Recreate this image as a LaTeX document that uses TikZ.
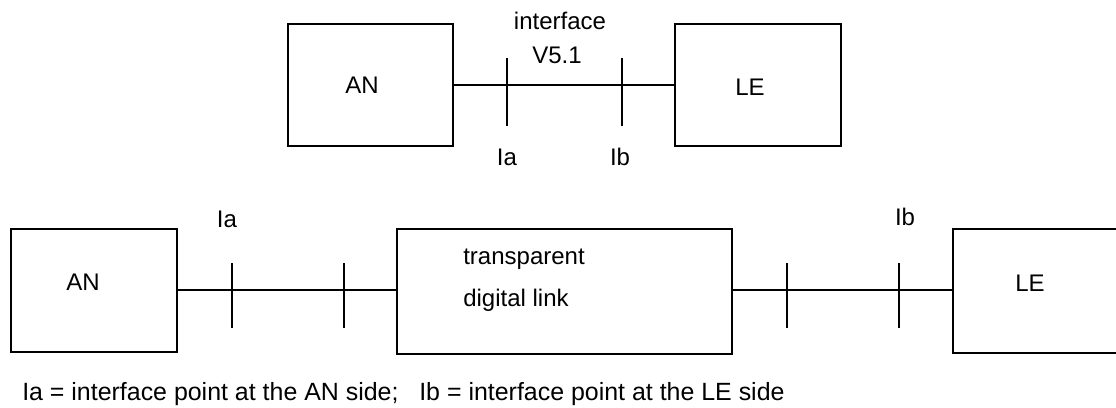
\documentclass[tikz,border=0pt]{standalone}
\usepackage{fontspec}
\setmainfont{Liberation Sans}
\begin{document}
\begin{tikzpicture}[x=0.75pt,y=-0.75pt,
  box/.style={draw, line width=1.4pt, inner sep=0pt, rectangle},
  wire/.style={line width=1.4pt},
  lbl/.style={inner sep=0pt, font=\fontsize{18}{21}\selectfont}]
\useasboundingbox (0,0) rectangle (1116,407);
\begin{scope}
\clip (0,0) rectangle (1116,407);
% top row
\node[box, minimum width=123.75pt, minimum height=91.5pt] (anT) at (370.5,85) {};
\node[box, minimum width=124.5pt, minimum height=91.5pt] (leT) at (758,85) {};
\node[lbl] (anTt) at (362,85) {AN};
\node[lbl] (leTt) at (750,87) {LE};
\draw[wire] (anT.east) -- (leT.west);
\coordinate (t1a) at (507,58); \coordinate (t1b) at (507,126);
\coordinate (t2a) at (622,58); \coordinate (t2b) at (622,126);
\draw[wire] (t1a) -- (t1b);
\draw[wire] (t2a) -- (t2b);
\node[lbl] (ifc) at (560,21) {interface};
\node[lbl] (v51) at (557,55) {V5.1};
\node[lbl] (iaT) at (507,157) {Ia};
\node[lbl] (ibT) at (620,157) {Ib};
% bottom row
\node[box, minimum width=124.5pt, minimum height=92.25pt] (anB) at (94,290.5) {};
\node[box, minimum width=251.25pt, minimum height=93.75pt] (tdl) at (564.5,291.5) {};
\node[box, minimum width=150pt, minimum height=93pt] (leB) at (1053,291) {};
\node[lbl] (anBt) at (83,282) {AN};
\node[lbl] (tr) at (524,259) {transparent};
\node[lbl] (dl) at (516,300) {digital link};
\node[lbl] (leBt) at (1030,283) {LE};
\draw[wire] (anB.east |- 0,290) -- (tdl.west |- 0,290);
\draw[wire] (tdl.east |- 0,290) -- (leB.west |- 0,290);
\coordinate (b1a) at (232,263); \coordinate (b1b) at (232,328);
\coordinate (b2a) at (344,263); \coordinate (b2b) at (344,328);
\coordinate (b3a) at (787,263); \coordinate (b3b) at (787,328);
\coordinate (b4a) at (899,263); \coordinate (b4b) at (899,328);
\draw[wire] (b1a) -- (b1b);
\draw[wire] (b2a) -- (b2b);
\draw[wire] (b3a) -- (b3b);
\draw[wire] (b4a) -- (b4b);
\node[lbl] (iaB) at (227,219) {Ia};
\node[lbl] (ibB) at (905,217) {Ib};
\node[lbl, anchor=base west, font=\fontsize{18.7}{22}\selectfont] (foot) at (22,400) {Ia = interface point at the AN side;\ \ \ Ib = interface point at the LE side};
\end{scope}
\end{tikzpicture}
\end{document}
